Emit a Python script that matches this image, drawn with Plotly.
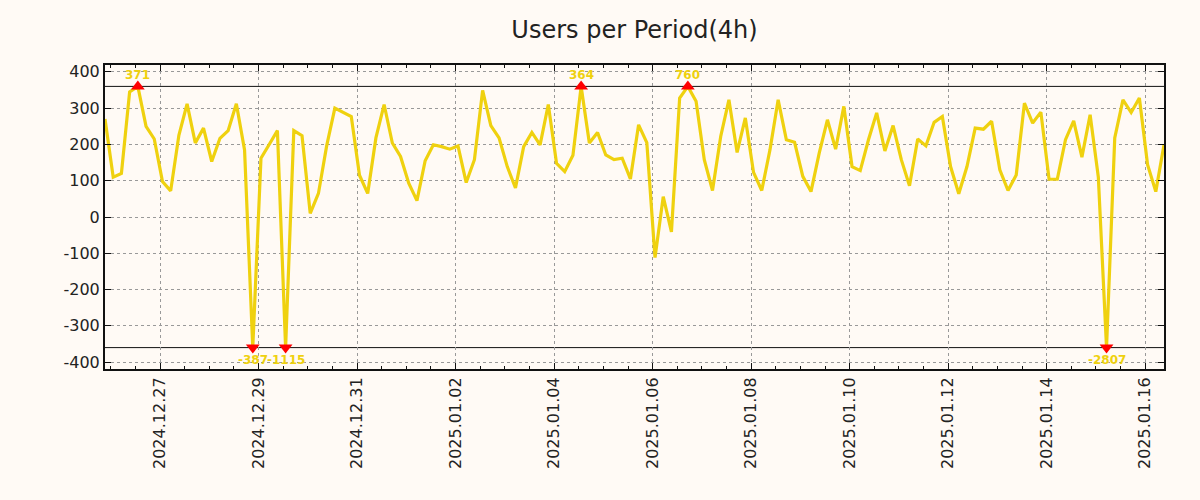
import numpy as np
import pandas as pd
import plotly.graph_objects as go

# ---- data (4-hour periods) ----
start_time = "2024-12-25 21:10"
period_hours = 4
users = [
    270, 110, 120, 345, 371, 250, 215, 98, 72, 225,
    312, 204, 245, 153, 217, 238, 312, 185, -387, 162,
    200, 238, -1115, 238, 224, 10, 65, 196, 300, 288,
    277, 115, 65, 218, 310, 204, 167, 93, 45, 155,
    199, 194, 187, 196, 95, 158, 349, 252, 218, 139,
    80, 194, 233, 199, 310, 148, 125, 170, 364, 204,
    233, 171, 158, 162, 105, 254, 205, -112, 56, -41,
    328, 760, 319, 158, 73, 222, 323, 178, 273, 123,
    73, 185, 323, 213, 206, 112, 70, 176, 268, 187,
    305, 139, 128, 213, 287, 182, 252, 158, 86, 215,
    196, 261, 277, 139, 64, 139, 245, 242, 264, 130,
    73, 116, 314, 259, 289, 104, 104, 213, 265, 165,
    282, 110, -2807, 218, 323, 288, 328, 144, 70, 199,
]
clip_limit = 360
y_ticks = [-400, -300, -200, -100, 0, 100, 200, 300, 400]
y_ticklabels = [str(v) for v in y_ticks]
title_text = "Users per Period(4h)"

times = pd.date_range(start=start_time, periods=len(users), freq=f"{period_hours}h")
vals = np.array(users, dtype=float)
shown = np.clip(vals, -clip_limit, clip_limit)

hi = vals > clip_limit
lo = vals < -clip_limit

LINE = "#efd10f"
BG = "#fffaf5"

fig = go.Figure()
fig.add_trace(go.Scatter(
    x=times, y=shown, mode="lines",
    line=dict(color=LINE, width=3.2), hoverinfo="skip", showlegend=False,
))
fig.add_trace(go.Scatter(
    x=times[hi], y=shown[hi], mode="markers",
    marker=dict(symbol="triangle-up", color="#ff0000", size=12, line=dict(width=0)),
    cliponaxis=False, showlegend=False,
))
fig.add_trace(go.Scatter(
    x=times[lo], y=shown[lo], mode="markers",
    marker=dict(symbol="triangle-down", color="#ff0000", size=12, line=dict(width=0)),
    cliponaxis=False, showlegend=False,
))

label_font = dict(family="DejaVu Sans", size=12, color=LINE, weight="bold")
for t, v, s in zip(times[hi], vals[hi], shown[hi]):
    fig.add_annotation(x=t, y=s, text=str(int(v)), showarrow=False,
                       yshift=11, font=label_font)
for t, v, s in zip(times[lo], vals[lo], shown[lo]):
    fig.add_annotation(x=t, y=s, text=str(int(v)), showarrow=False,
                       yshift=-12, font=label_font)

for lim in (clip_limit, -clip_limit):
    fig.add_shape(type="line", xref="paper", x0=0, x1=1, yref="y", y0=lim, y1=lim,
                  line=dict(color="#111111", width=1), layer="below")

fig.update_layout(
    width=1200, height=500,
    paper_bgcolor=BG, plot_bgcolor=BG,
    margin=dict(l=105, r=36, t=65, b=131),
    title=dict(text=title_text, x=0.5, xref="paper", y=0.94, yanchor="middle",
               font=dict(family="DejaVu Sans", size=24, color="#222222")),
    font=dict(family="DejaVu Sans", size=16, color="#222222"),
    showlegend=False,
)
fig.update_xaxes(
    range=[times[0], times[-1]],
    type="date", tickformat="%Y.%m.%d", tick0="2024-12-27", dtick=2 * 86400000,
    tickangle=-90, ticks="inside", ticklen=6, tickwidth=1, tickcolor="#111111",
    showline=True, linecolor="#111111", linewidth=2, mirror="allticks",
    showgrid=True, gridcolor="#999999", griddash="dot", gridwidth=1,
    minor=dict(dtick=12 * 3600 * 1000, ticks="inside", ticklen=3, tickcolor="#111111", showgrid=False),
    zeroline=False,
)
fig.update_yaxes(
    range=[-419, 419], tickvals=y_ticks, ticktext=y_ticklabels,
    ticks="inside", ticklen=6, tickwidth=1, tickcolor="#111111",
    showline=True, linecolor="#111111", linewidth=2, mirror="allticks",
    showgrid=True, gridcolor="#999999", griddash="dot", gridwidth=1,
    zeroline=False,
)

fig.write_html("out.html")
